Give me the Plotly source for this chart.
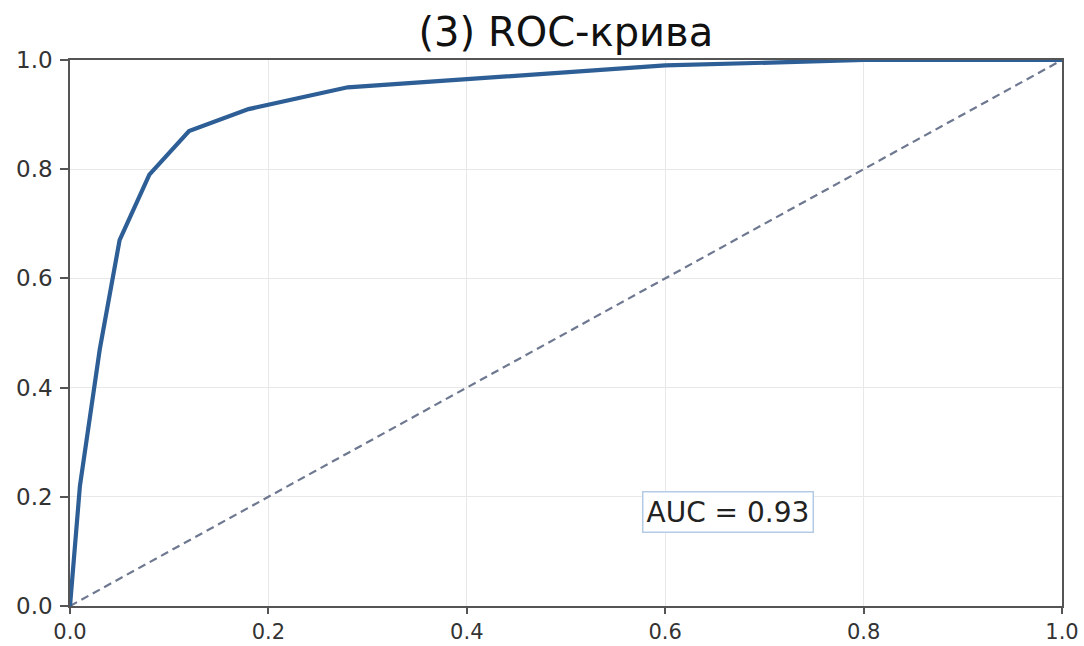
import plotly.graph_objects as go

fpr = [0.0, 0.01, 0.03, 0.05, 0.08, 0.12, 0.18, 0.28, 0.40, 0.55, 0.60, 0.80, 1.0]
tpr = [0.0, 0.22, 0.47, 0.67, 0.79, 0.87, 0.91, 0.95, 0.965, 0.985, 0.99, 1.0, 1.0]
diag = [0.0, 1.0]
ticks = [0.0, 0.2, 0.4, 0.6, 0.8, 1.0]
tick_labels = ["0.0", "0.2", "0.4", "0.6", "0.8", "1.0"]
title = "(3) ROC-крива"
auc_text = "AUC = 0.93"

fig = go.Figure()
fig.add_trace(go.Scatter(x=diag, y=diag, mode="lines",
                         line=dict(color="#6e7890", width=2.2, dash="8px,5px"),
                         hoverinfo="skip", showlegend=False, cliponaxis=False))
fig.add_trace(go.Scatter(x=fpr, y=tpr, mode="lines",
                         line=dict(color="#2d5e95", width=4.2),
                         showlegend=False, cliponaxis=False))

axis_common = dict(range=[0, 1], tickvals=ticks, ticktext=tick_labels,
                   showgrid=True, gridcolor="#e8e8e8", gridwidth=1, automargin=False,
                   zeroline=False, showline=True, linecolor="#555555", linewidth=1.6,
                   mirror=True, ticks="outside", ticklen=8, tickwidth=1.6, tickcolor="#555555",
                   tickfont=dict(family="DejaVu Sans", size=23, color="#333333"))

fig.update_layout(
    width=1084, height=646,
    margin=dict(l=70, r=22, t=60, b=40),
    paper_bgcolor="white", plot_bgcolor="white",
    title=dict(text=title, x=0.522, xanchor="center", y=0.95, yanchor="middle",
               font=dict(family="DejaVu Sans", size=40, color="#111111")),
    xaxis=dict(axis_common, ticklen=6,
               tickfont=dict(family="DejaVu Sans", size=21, color="#333333")),
    yaxis=dict(axis_common, ticklabelstandoff=3),
    annotations=[dict(x=0.663, y=0.172, xref="x", yref="y", text=auc_text,
                      showarrow=False, xanchor="center", yanchor="middle",
                      font=dict(family="DejaVu Sans", size=28, color="#222222"),
                      bgcolor="white", bordercolor="#b4cbe6", borderwidth=1.5, borderpad=3)]
)

fig.write_html("out.html")
